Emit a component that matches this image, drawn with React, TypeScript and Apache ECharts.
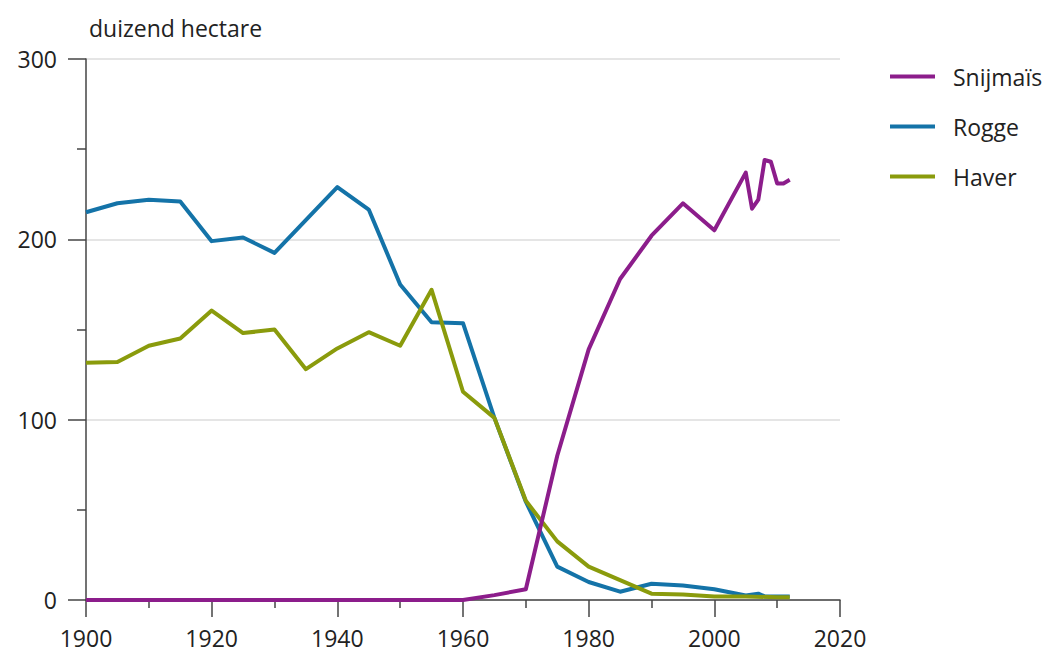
import React, { useEffect, useRef } from "react";
import * as echarts from "echarts";

const snijmaisYears = [1900, 1905, 1910, 1915, 1920, 1925, 1930, 1935, 1940, 1945, 1950, 1955, 1960, 1965, 1970, 1975, 1980, 1985, 1990, 1995, 2000, 2005, 2006, 2007, 2008, 2009, 2010, 2011, 2012];
const snijmaisValues = [0, 0, 0, 0, 0, 0, 0, 0, 0, 0, 0, 0, 0, 2.7, 6, 80, 139, 178, 202, 220, 205, 237, 217, 222, 244, 243, 231, 231, 233];

const roggeYears = [1900, 1905, 1910, 1915, 1920, 1925, 1930, 1940, 1945, 1950, 1955, 1960, 1965, 1970, 1975, 1980, 1985, 1990, 1995, 2000, 2005, 2007, 2008, 2010, 2012];
const roggeValues = [215, 220, 222, 221, 199, 201, 192.5, 229, 216.5, 175, 154, 153.5, 101, 54.5, 18.5, 10, 4.6, 9, 8, 6, 2.5, 3.5, 2, 2, 2];

const haverYears = [1900, 1905, 1910, 1915, 1920, 1925, 1930, 1935, 1940, 1945, 1950, 1955, 1960, 1965, 1970, 1975, 1980, 1985, 1990, 1995, 2000, 2005, 2010, 2012];
const haverValues = [131.5, 132, 141, 145, 160.5, 148, 150, 128, 139.5, 148.5, 141, 172, 115.5, 101, 55, 32.5, 18.5, 11, 3.5, 3, 2, 2, 1.5, 1.5];

const seriesNames = ["Snijmaïs", "Rogge", "Haver"];
const seriesColors = ["#8c1d8b", "#1473a8", "#8a9b0c"];
const yUnitLabel = "duizend hectare";

const FONT = "'Open Sans', sans-serif";
const FS = 23;
const TEXT_COLOR = "#222";
const AXIS_COLOR = "#444";

function pairs(xs: number[], ys: number[]) {
  return xs.map((x, i) => [x, ys[i]]);
}

export default function App() {
  const ref = useRef<HTMLDivElement>(null);
  useEffect(() => {
    if (!ref.current) return;
    const chart = echarts.init(ref.current, undefined, { renderer: "svg" });
    const lineSeries = (name: string, data: number[][], color: string, z: number) => ({
      type: "line",
      name,
      data,
      color,
      showSymbol: false,
      symbol: "none",
      z,
      lineStyle: { width: 4, color, join: "round" },
    });
    chart.setOption({
      animation: false,
      backgroundColor: "#fff",
      textStyle: { fontFamily: FONT },
      grid: { left: 86, right: 215, top: 59, bottom: 54, containLabel: false },
      title: {
        text: yUnitLabel,
        left: 84,
        top: 11,
        textStyle: { fontFamily: FONT, fontSize: FS, fontWeight: "normal", color: TEXT_COLOR },
      },
      legend: {
        orient: "vertical",
        left: 885,
        top: 60,
        itemWidth: 45,
        itemHeight: 4,
        itemGap: 27,
        icon: "rect",
        data: seriesNames,
        textStyle: { fontFamily: FONT, fontSize: FS, color: TEXT_COLOR, padding: [0, 0, 0, 13] },
      },
      xAxis: {
        type: "value",
        min: 1900,
        max: 2020,
        interval: 20,
        axisLine: { show: true, onZero: false, lineStyle: { color: AXIS_COLOR, width: 1.5 } },
        axisTick: { show: true, length: 17, lineStyle: { color: AXIS_COLOR, width: 1.5 } },
        minorTick: { show: true, splitNumber: 2, length: 8, lineStyle: { color: AXIS_COLOR, width: 1.5 } },
        splitLine: { show: false },
        axisLabel: {
          margin: 26,
          fontFamily: FONT,
          fontSize: FS,
          lineHeight: 23,
          color: TEXT_COLOR,
          formatter: (v: number) => String(v),
        },
      },
      yAxis: {
        type: "value",
        min: 0,
        max: 300,
        interval: 100,
        axisLine: { show: true, lineStyle: { color: AXIS_COLOR, width: 1.5 } },
        axisTick: { show: true, length: 18, lineStyle: { color: AXIS_COLOR, width: 1.5 } },
        minorTick: { show: true, splitNumber: 2, length: 9, lineStyle: { color: AXIS_COLOR, width: 1.5 } },
        splitLine: { show: true, lineStyle: { color: "#dcdcdc", width: 1.5 } },
        axisLabel: {
          margin: 29,
          fontFamily: FONT,
          fontSize: FS,
          color: TEXT_COLOR,
        },
      },
      series: [
        lineSeries(seriesNames[1], pairs(roggeYears, roggeValues), seriesColors[1], 2),
        lineSeries(seriesNames[2], pairs(haverYears, haverValues), seriesColors[2], 3),
        lineSeries(seriesNames[0], pairs(snijmaisYears, snijmaisValues), seriesColors[0], 4),
      ],
    });
    return () => chart.dispose();
  }, []);
  return (
    <div
      ref={ref}
      style={{ position: "fixed", left: 0, top: 0, width: 1055, height: 654, background: "#fff" }}
    />
  );
}
